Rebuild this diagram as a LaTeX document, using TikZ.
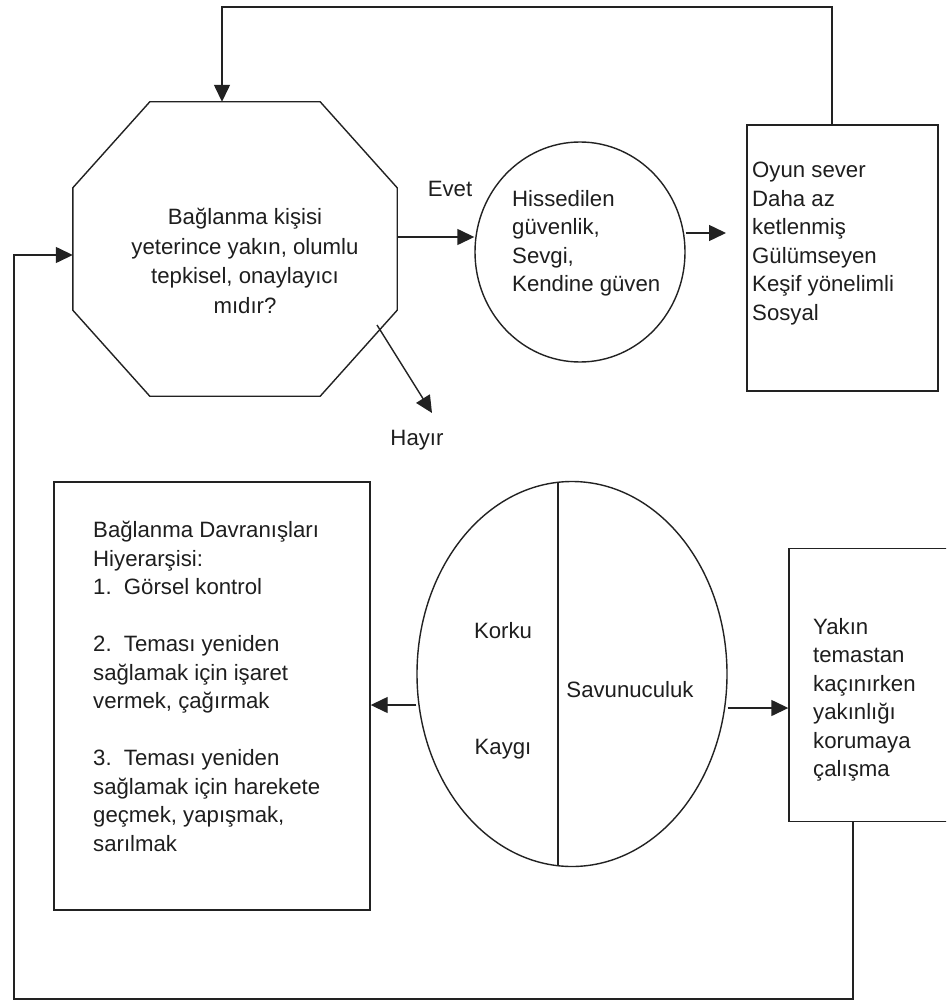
\documentclass[tikz,border=0pt]{standalone}
\usepackage{fontspec}
\setmainfont{Liberation Sans}
\usetikzlibrary{shapes.geometric,arrows.meta,calc}
\definecolor{lncol}{HTML}{222222}
\definecolor{txtcol}{HTML}{1E1E1E}
\tikzset{
  every node/.style={font=\fontsize{22.2}{28.5}\selectfont, text=txtcol},
  ln/.style={draw=lncol, line width=1.4pt},
  arr/.style={ln, -{Triangle[length=17pt,width=16pt]}},
  box/.style={ln, rectangle, inner sep=0pt},
  txt/.style={inner sep=0pt, align=left},
}
\begin{document}
\begin{tikzpicture}[x=1pt,y=-1pt]
\useasboundingbox (0,0) rectangle (946,1003);
\clip (0,0) rectangle (946,1003);
\fill[white] (0,0) rectangle (946,1003);

% octagon
\node[minimum width=324pt, minimum height=294pt, inner sep=0pt] (oct) at (235,249) {};
\draw[ln] ($(oct.north west)+(77,0)$) -- ($(oct.north east)+(-77,0)$)
  -- ($(oct.north east)+(0,86)$) -- ($(oct.south east)+(0,-86)$)
  -- ($(oct.south east)+(-77,0)$) -- ($(oct.south west)+(77,0)$)
  -- ($(oct.south west)+(0,-86)$) -- ($(oct.north west)+(0,86)$) -- cycle;
\node[txt, align=center, font=\fontsize{22.2}{29.5}\selectfont] (octt) at (245,261)
  {Bağlanma kişisi\\yeterince yakın, olumlu\\tepkisel, onaylayıcı\\mıdır?};

\node (evet) at (450,189) {Evet};
\node (hayir) at (417,440) {Hayır};

% circle
\node[ln, ellipse, minimum width=210pt, minimum height=220pt, inner sep=0pt] (circ) at (580,252) {};
\node[txt, anchor=west] (circt) at (512,243.5) {Hissedilen\\güvenlik,\\Sevgi,\\Kendine güven};

% right top box
\node[box, minimum width=191pt, minimum height=266pt] (rbox) at (842.5,258) {};
\node[txt, anchor=west] (rboxt) at (752,243.5)
  {Oyun sever\\Daha az\\ketlenmiş\\Gülümseyen\\Keşif yönelimli\\Sosyal};

% left bottom box
\node[box, minimum width=316pt, minimum height=428pt] (lbox) at (212,696) {};
\node[txt, anchor=west] (lboxt) at (93,686.5)
  {Bağlanma Davranışları\\Hiyerarşisi:\\1.\hspace{0.55em}Görsel kontrol\\[28.5pt]
   2.\hspace{0.55em}Teması yeniden\\sağlamak için işaret\\vermek, çağırmak\\[28.5pt]
   3.\hspace{0.55em}Teması yeniden\\sağlamak için harekete\\geçmek, yapışmak,\\sarılmak};

% ellipse
\node[ln, ellipse, minimum width=310pt, minimum height=385pt, inner sep=0pt] (ell) at (572,674) {};
\draw[ln] ($(ell.center)+(-14,-191)$) -- ($(ell.center)+(-14,191)$);
\node (korku) at (503,631) {Korku};
\node (kaygi) at (503,749) {Kaygı};
\node (savun) at (630,690) {Savunuculuk};

% right bottom box
\node[box, minimum width=181pt, minimum height=273pt] (rbox2) at (879.5,685) {};
\node[txt, anchor=west] (rbox2t) at (813,700)
  {Yakın\\temastan\\kaçınırken\\yakınlığı\\korumaya\\çalışma};

% connectors
\coordinate (tl) at (222,7);
\coordinate (tr) at (832,7);
\draw[arr] (rbox.north -| tr) -- (tr) -- (tl) -- (oct.north -| tl);

\coordinate (ev) at (0,237);
\draw[arr] (oct.east |- ev) -- (circ.west |- ev);

\coordinate (a2) at (726,233);
\draw[arr] (circ.east |- a2) -- (a2);

\coordinate (h1) at (377,325);
\coordinate (h2) at (432,413);
\draw[arr] (h1) -- (h2);

\coordinate (el) at (0,705);
\draw[arr] (ell.west |- el) -- (lbox.east |- el);
\coordinate (er) at (0,708);
\draw[arr] (ell.east |- er) -- (rbox2.west |- er);

\coordinate (bl) at (14,999);
\coordinate (br) at (853,999);
\coordinate (fb) at (0,255);
\draw[arr] (rbox2.south -| br) -- (br) -- (bl) -- (bl |- fb) -- (oct.west |- fb);
\end{tikzpicture}
\end{document}
